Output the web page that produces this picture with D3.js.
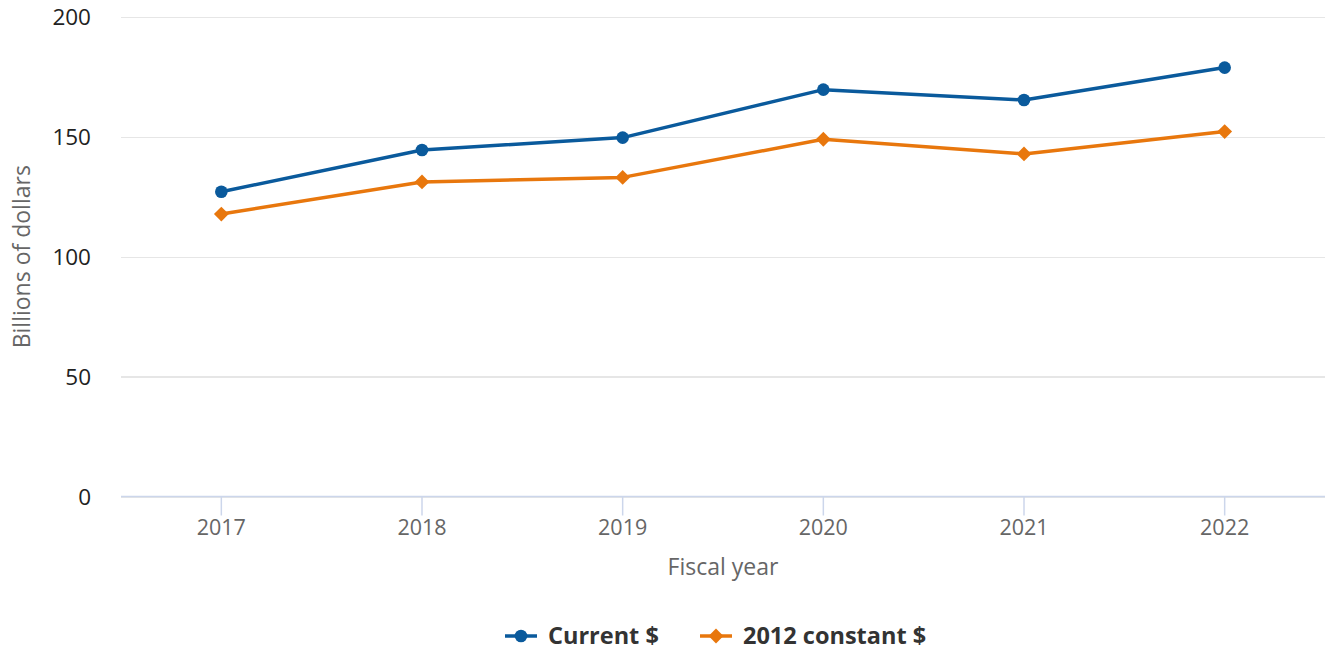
<!DOCTYPE html>
<html>
<head>
<meta charset="utf-8">
<script src="https://cdn.jsdelivr.net/npm/d3@7"></script>
<style>
  body { margin: 0; background: #fff; font-family: "Open Sans", sans-serif; }
  .grid line { stroke: #e6e6e6; stroke-width: 1.5; shape-rendering: crispEdges; }
  .grid path { display: none; }
</style>
</head>
<body>
<svg id="chart"></svg>
<script>
var years = ['2017', '2018', '2019', '2020', '2021', '2022'];
var currentDollars = [127.1, 144.5, 149.7, 169.7, 165.4, 178.9];
var constantDollars = [117.8, 131.2, 133.1, 149.0, 142.9, 152.2];
var yTicks = [0, 50, 100, 150, 200];
var seriesNames = ['Current $', '2012 constant $'];

var WIDTH = 1329, HEIGHT = 651;
var PLOT = {left: 121, right: 1325, top: 17, bottom: 496.5};
var BLUE = '#0a5a9c', ORANGE = '#e8770d';

var svg = d3.select('#chart').attr('width', WIDTH).attr('height', HEIGHT);

var x = d3.scaleBand().domain(years).range([PLOT.left, PLOT.right]).padding(0);
var y = d3.scaleLinear().domain([0, 200]).range([PLOT.bottom, PLOT.top]);
function cx(d) { return x(d) + x.bandwidth() / 2; }

// horizontal grid
svg.append('g').attr('class', 'grid')
    .attr('transform', 'translate(' + PLOT.left + ',0)')
    .call(d3.axisLeft(y).tickValues(yTicks).tickSize(-(PLOT.right - PLOT.left)).tickFormat(''));

// y tick labels
svg.append('g').selectAll('text').data(yTicks).enter().append('text')
    .attr('x', 91).attr('y', function(d) { return y(d); })
    .attr('dy', '0.36em')
    .attr('text-anchor', 'end')
    .style('font-size', '22.5px').style('fill', '#222')
    .text(function(d) { return d; });

// x axis
var xAxis = d3.axisBottom(x).tickSize(19).tickSizeOuter(0).tickPadding(4);
var gx = svg.append('g').attr('transform', 'translate(0,' + PLOT.bottom + ')').call(xAxis);
gx.select('.domain').attr('stroke', '#ccd6eb').attr('stroke-width', 1.5)
    .attr('d', 'M' + PLOT.left + ',0H' + PLOT.right);
gx.selectAll('.tick line').attr('stroke', '#ccd6eb').attr('stroke-width', 1.5);
gx.selectAll('.tick text').attr('y', 23).attr('dy', '0.71em')
    .style('font-family', '"Open Sans", sans-serif').style('font-size', '21.5px').style('fill', '#666');

// axis titles
svg.append('text').attr('x', (PLOT.left + PLOT.right) / 2).attr('y', 575)
    .attr('text-anchor', 'middle')
    .style('font-size', '23px').style('fill', '#666')
    .text('Fiscal year');
svg.append('text')
    .attr('transform', 'translate(30,' + ((PLOT.top + PLOT.bottom) / 2) + ') rotate(-90)')
    .attr('text-anchor', 'middle')
    .style('font-size', '23px').style('fill', '#666')
    .text('Billions of dollars');

var line = d3.line()
    .x(function(d, i) { return cx(years[i]); })
    .y(function(d) { return y(d); });

var diamond = d3.symbol().type(d3.symbolDiamond2).size(140);

function drawSeries(values, color, shape) {
    svg.append('path').datum(values).attr('d', line)
        .attr('fill', 'none').attr('stroke', color).attr('stroke-width', 3.5)
        .attr('stroke-linejoin', 'round');
    var g = svg.append('g');
    if (shape == 'circle') {
        g.selectAll('circle').data(values).enter().append('circle')
            .attr('cx', function(d, i) { return cx(years[i]); })
            .attr('cy', function(d) { return y(d); })
            .attr('r', 6.3).attr('fill', color);
    } else {
        g.selectAll('path').data(values).enter().append('path')
            .attr('d', diamond)
            .attr('transform', function(d, i) { return 'translate(' + cx(years[i]) + ',' + y(d) + ')'; })
            .attr('fill', color);
    }
}

drawSeries(currentDollars, BLUE, 'circle');
drawSeries(constantDollars, ORANGE, 'diamond');

// legend
var legendItems = [
    {name: seriesNames[0], color: BLUE, shape: 'circle', x: 505},
    {name: seriesNames[1], color: ORANGE, shape: 'diamond', x: 700}
];
var ly = 636;
legendItems.forEach(function(item) {
    var g = svg.append('g').attr('transform', 'translate(' + item.x + ',' + ly + ')');
    g.append('line').attr('x1', 0).attr('x2', 32).attr('y1', 0).attr('y2', 0)
        .attr('stroke', item.color).attr('stroke-width', 3.5);
    if (item.shape == 'circle') {
        g.append('circle').attr('cx', 16).attr('cy', 0).attr('r', 6.3).attr('fill', item.color);
    } else {
        g.append('path').attr('d', diamond).attr('transform', 'translate(16,0)').attr('fill', item.color);
    }
    g.append('text').attr('x', 43).attr('y', 0).attr('dy', '0.36em')
        .style('font-size', '23.5px').style('font-weight', 'bold').style('fill', '#333')
        .text(item.name);
});
</script>
</body>
</html>
